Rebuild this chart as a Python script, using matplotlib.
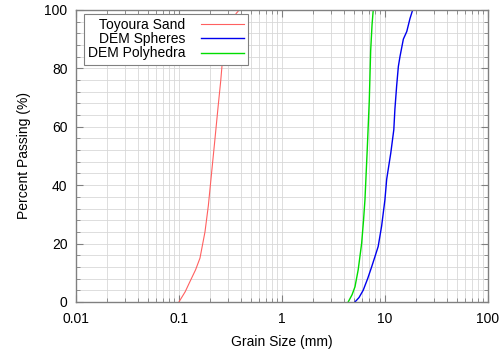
import matplotlib
matplotlib.use('Agg')
import matplotlib.pyplot as plt
from matplotlib.ticker import LogLocator, MultipleLocator, FixedFormatter, FixedLocator

plt.rcParams['font.family'] = ['Liberation Sans', 'DejaVu Sans']

# grain size (mm) vs percent passing
toyoura_d = [0.1, 0.115, 0.128, 0.145, 0.16, 0.179, 0.193, 0.208, 0.224, 0.241, 0.254, 0.269, 0.29, 0.325, 0.36, 0.385]
toyoura_p = [0, 3.5, 7, 11, 15, 24, 33, 44.6, 56, 67.5, 75.4, 85.7, 91.4, 96, 98.8, 100]

spheres_d = [5.12, 5.6, 6.15, 6.8, 7.43, 8.0, 8.6, 9.29, 10.0, 10.4, 11.4, 12.2, 12.5, 13.0, 13.5, 14.0, 15.1, 16.3, 17.5, 18.6]
spheres_p = [0, 1.5, 4, 8, 12, 15.5, 19, 26, 35, 42, 51, 59, 66, 74, 80.6, 84, 90, 92.6, 97, 100]

poly_d = [4.4, 4.8, 5.12, 5.5, 5.94, 6.2, 6.4, 6.73, 7.05, 7.27, 7.5, 7.7]
poly_p = [0, 2.5, 5.2, 11, 20, 28, 35, 52, 69, 86, 95, 100]

xticks = [0.01, 0.1, 1, 10, 100]
xlabels = ['0.01', '0.1', '1', '10', '100']

fig = plt.figure(figsize=(5.03, 3.54), dpi=100)
ax = fig.add_axes([0.151, 0.147, 0.819, 0.825])

ax.plot(toyoura_d, toyoura_p, color='#ff6060', lw=0.8, label='Toyoura Sand')
ax.plot(spheres_d, spheres_p, color='#0000ee', lw=1.0, label='DEM Spheres')
ax.plot(poly_d, poly_p, color='#00dd00', lw=1.0, label='DEM Polyhedra')

ax.set_xscale('log')
ax.set_xlim(0.01, 100)
ax.set_ylim(0, 100)
ax.xaxis.set_major_locator(FixedLocator(xticks))
ax.xaxis.set_major_formatter(FixedFormatter(xlabels))
ax.xaxis.set_minor_locator(LogLocator(base=10, subs=range(2, 10)))
ax.yaxis.set_major_locator(MultipleLocator(20))
ax.yaxis.set_minor_locator(MultipleLocator(4))

ax.grid(True, which='both', color='#d8d8d8', lw=0.6)
ax.set_axisbelow(True)
for s in ax.spines.values():
    s.set_color('#808080')
    s.set_linewidth(1.0)
ax.tick_params(which='both', direction='in', top=True, right=True, color='#808080',
               labelsize=10)
ax.tick_params(axis='x', pad=7)
ax.tick_params(axis='y', pad=6)
ax.tick_params(which='major', length=5)
ax.tick_params(which='minor', length=3)

ax.set_xlabel('Grain Size (mm)', fontsize=10, labelpad=7)
ax.set_ylabel('Percent Passing (%)', fontsize=10, labelpad=10)

leg = ax.legend(loc='upper left', bbox_to_anchor=(0.019, 0.987), markerfirst=False,
                fancybox=False, framealpha=1, edgecolor='#808080', fontsize=10,
                handlelength=3.1, borderpad=0.3, labelspacing=0.02, handletextpad=1.1,
                borderaxespad=0)
leg.get_frame().set_linewidth(0.8)

fig.savefig('out.png', dpi=100)
